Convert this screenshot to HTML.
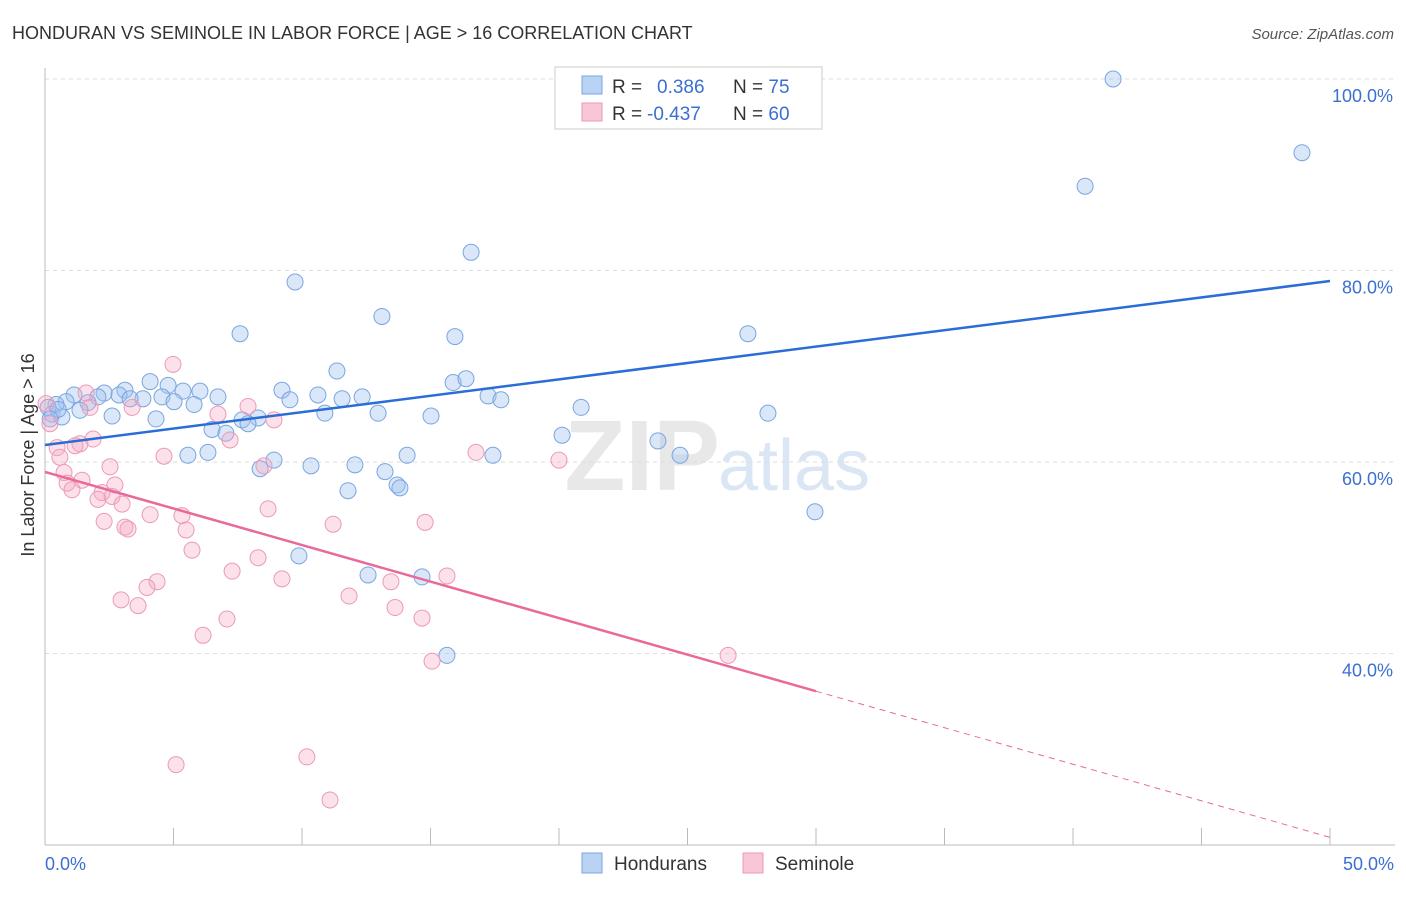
<!DOCTYPE html>
<html><head><meta charset="utf-8"><style>
body{margin:0;background:#fff;font-family:"Liberation Sans",sans-serif;}
svg text{font-family:"Liberation Sans",sans-serif;}
</style></head><body>
<svg id="c" width="1406" height="892" xmlns="http://www.w3.org/2000/svg">
<text x="12" y="39" font-size="18" fill="#333">HONDURAN VS SEMINOLE IN LABOR FORCE | AGE &gt; 16 CORRELATION CHART</text>
<text x="1394" y="39" font-size="15" fill="#555" font-style="italic" text-anchor="end">Source: ZipAtlas.com</text>
<text x="720" y="490" font-size="100" fill="#e8e8e8" text-anchor="end" font-family="Liberation Serif" font-weight="bold">ZIP</text>
<text x="718" y="490" font-size="72" fill="#dbe6f5">atlas</text>
<g id="grid"></g><g id="marks"></g>
<text transform="translate(34,455) rotate(-90)" font-size="18" fill="#333" text-anchor="middle">In Labor Force | Age &gt; 16</text>
<text x="45" y="870" font-size="18" fill="#3b6fd1">0.0%</text>
<text x="1394" y="870" font-size="18" fill="#3b6fd1" text-anchor="end">50.0%</text>
<g>
<rect x="555" y="67" width="267" height="62" fill="#fff" stroke="#ccc"/>
<rect x="582" y="76" width="20" height="18" fill="#b9d3f5" stroke="#7aa5e0"/>
<rect x="582" y="103" width="20" height="18" fill="#f9c6d6" stroke="#eb9ab8"/>
<text x="612" y="93" font-size="19" fill="#333">R = <tspan fill="#3b6fd1" x="657">0.386</tspan><tspan x="733">N = </tspan><tspan fill="#3b6fd1">75</tspan></text>
<text x="612" y="120" font-size="19" fill="#333">R = <tspan fill="#3b6fd1" x="647">-0.437</tspan><tspan x="733">N = </tspan><tspan fill="#3b6fd1">60</tspan></text>
</g>
<g>
<rect x="582" y="853" width="20" height="20" fill="#b9d3f5" stroke="#7aa5e0"/>
<text x="614" y="870" font-size="19" fill="#333">Hondurans</text>
<rect x="743" y="853" width="20" height="20" fill="#f9c6d6" stroke="#eb9ab8"/>
<text x="775" y="870" font-size="19" fill="#333">Seminole</text>
</g>
</svg>
<script>
const yTicks=[100,80,60,40];
const yTickLabels=["100.0%","80.0%","60.0%","40.0%"];
const xTicks=[0,5,10,15,20,25,30,35,40,45,50];
const hondX=[41.56,48.91,40.47,16.58,9.73,13.11,7.59,27.35,15.95,11.36,4.09,4.79,15.88,16.38,3.11,5.37,6.03,9.22,2.30,1.13,2.88,2.06,4.55,6.73,10.62,11.56,12.34,17.24,17.74,9.53,3.81,3.31,0.82,1.67,5.02,5.80,0.43,1.36,0.27,0.66,2.61,20.86,28.13,12.96,10.89,15.02,4.32,7.67,8.29,7.90,6.50,7.04,20.12,23.85,24.71,6.34,5.56,8.91,14.09,17.43,10.35,12.06,8.37,13.23,13.70,13.81,11.79,29.96,9.88,12.57,14.67,15.64,0.12,0.51,0.2];
const hondY=[100,92.3,88.8,81.9,78.8,75.2,73.4,73.4,73.1,69.5,68.4,68.0,68.3,68.7,67.5,67.4,67.4,67.5,67.2,67.0,67.0,66.8,66.8,66.8,67.0,66.6,66.8,66.9,66.5,66.5,66.6,66.6,66.3,66.2,66.3,66.0,66.0,65.4,65.0,64.7,64.8,65.7,65.1,65.1,65.1,64.8,64.5,64.4,64.6,64.0,63.4,63.0,62.8,62.2,60.7,61.0,60.7,60.2,60.7,60.7,59.6,59.7,59.3,59.0,57.6,57.3,57.0,54.8,50.2,48.2,48.0,39.8,65.7,65.5,64.5];
const semX=[4.98,7.90,3.39,1.60,1.75,6.73,8.91,0.04,0.19,7.20,1.87,1.36,1.17,0.47,0.58,4.63,16.77,20.0,8.52,2.53,0.74,0.86,1.44,1.05,2.72,2.22,2.61,2.06,3.00,8.68,4.09,5.33,2.30,11.21,14.79,3.11,3.23,5.49,5.72,8.29,7.28,15.64,9.22,13.46,4.36,3.97,11.83,2.96,3.62,13.62,7.08,14.67,6.15,26.58,15.06,10.19,5.10,11.09];
const semY=[70.2,65.8,65.7,67.2,65.7,65.0,64.4,66.1,64.0,62.3,62.4,61.9,61.7,61.5,60.5,60.6,61.0,60.2,59.6,59.5,58.9,57.8,58.1,57.1,57.6,56.8,56.4,56.1,55.6,55.1,54.5,54.4,53.8,53.5,53.7,53.2,53.0,52.9,50.8,50.0,48.6,48.1,47.8,47.5,47.5,46.9,46.0,45.6,45.0,44.8,43.6,43.7,41.9,39.8,39.2,29.2,28.4,24.7];
const hondTrend=[61.78,78.9];
const semTrend=[58.96,20.8];
const semSolidEnd=30;
const X=v=>45+v*25.7, Y=v=>845-(v-20)*9.575;
const NS="http://www.w3.org/2000/svg";
function mk(tag,attrs,parent){const e=document.createElementNS(NS,tag);for(const k in attrs)e.setAttribute(k,attrs[k]);parent.appendChild(e);return e;}
const grid=document.getElementById('grid'),marks=document.getElementById('marks');
yTicks.forEach((t,i)=>{
 const l=mk('line',{x1:45,x2:1395,y1:Y(t),y2:Y(t),stroke:'#ddd','stroke-dasharray':'4,4'},grid);
 
 
 const tx=mk('text',{x:1393,y:Y(t)+23,'font-size':18,fill:'#3b6fd1','text-anchor':'end'},grid);
 tx.textContent=yTickLabels[i];
 
 
});
const ax=mk('line',{x1:45,x2:1395,y1:845,y2:845,stroke:'#bbb'},grid);


const ay=mk('line',{x1:45,x2:45,y1:68,y2:845,stroke:'#bbb'},grid);


xTicks.forEach(t=>{const l=mk('line',{x1:X(t),x2:X(t),y1:828,y2:845,stroke:'#bbb'},grid);
 
 });
hondX.forEach((v,i)=>{const c=mk('circle',{cx:X(v),cy:Y(hondY[i]),r:8,fill:'rgba(160,195,240,0.4)',stroke:'#7aa5e0','stroke-width':1},marks);
 
 });
semX.forEach((v,i)=>{const c=mk('circle',{cx:X(v),cy:Y(semY[i]),r:8,fill:'rgba(245,170,195,0.35)',stroke:'#eb9ab8','stroke-width':1},marks);
 
 });
const hl=mk('line',{x1:X(0),y1:Y(hondTrend[0]),x2:X(50),y2:Y(hondTrend[1]),stroke:'#2a6dd6','stroke-width':2.5},marks);


const sAt=x=>semTrend[0]+(semTrend[1]-semTrend[0])*x/50;
const sl=mk('line',{x1:X(0),y1:Y(semTrend[0]),x2:X(semSolidEnd),y2:Y(sAt(semSolidEnd)),stroke:'#e8699a','stroke-width':2.5},marks);


const sd=mk('line',{x1:X(semSolidEnd),y1:Y(sAt(semSolidEnd)),x2:X(50),y2:Y(semTrend[1]),stroke:'#e8699a','stroke-width':1,'stroke-dasharray':'6,5'},marks);


</script>
</body></html>
